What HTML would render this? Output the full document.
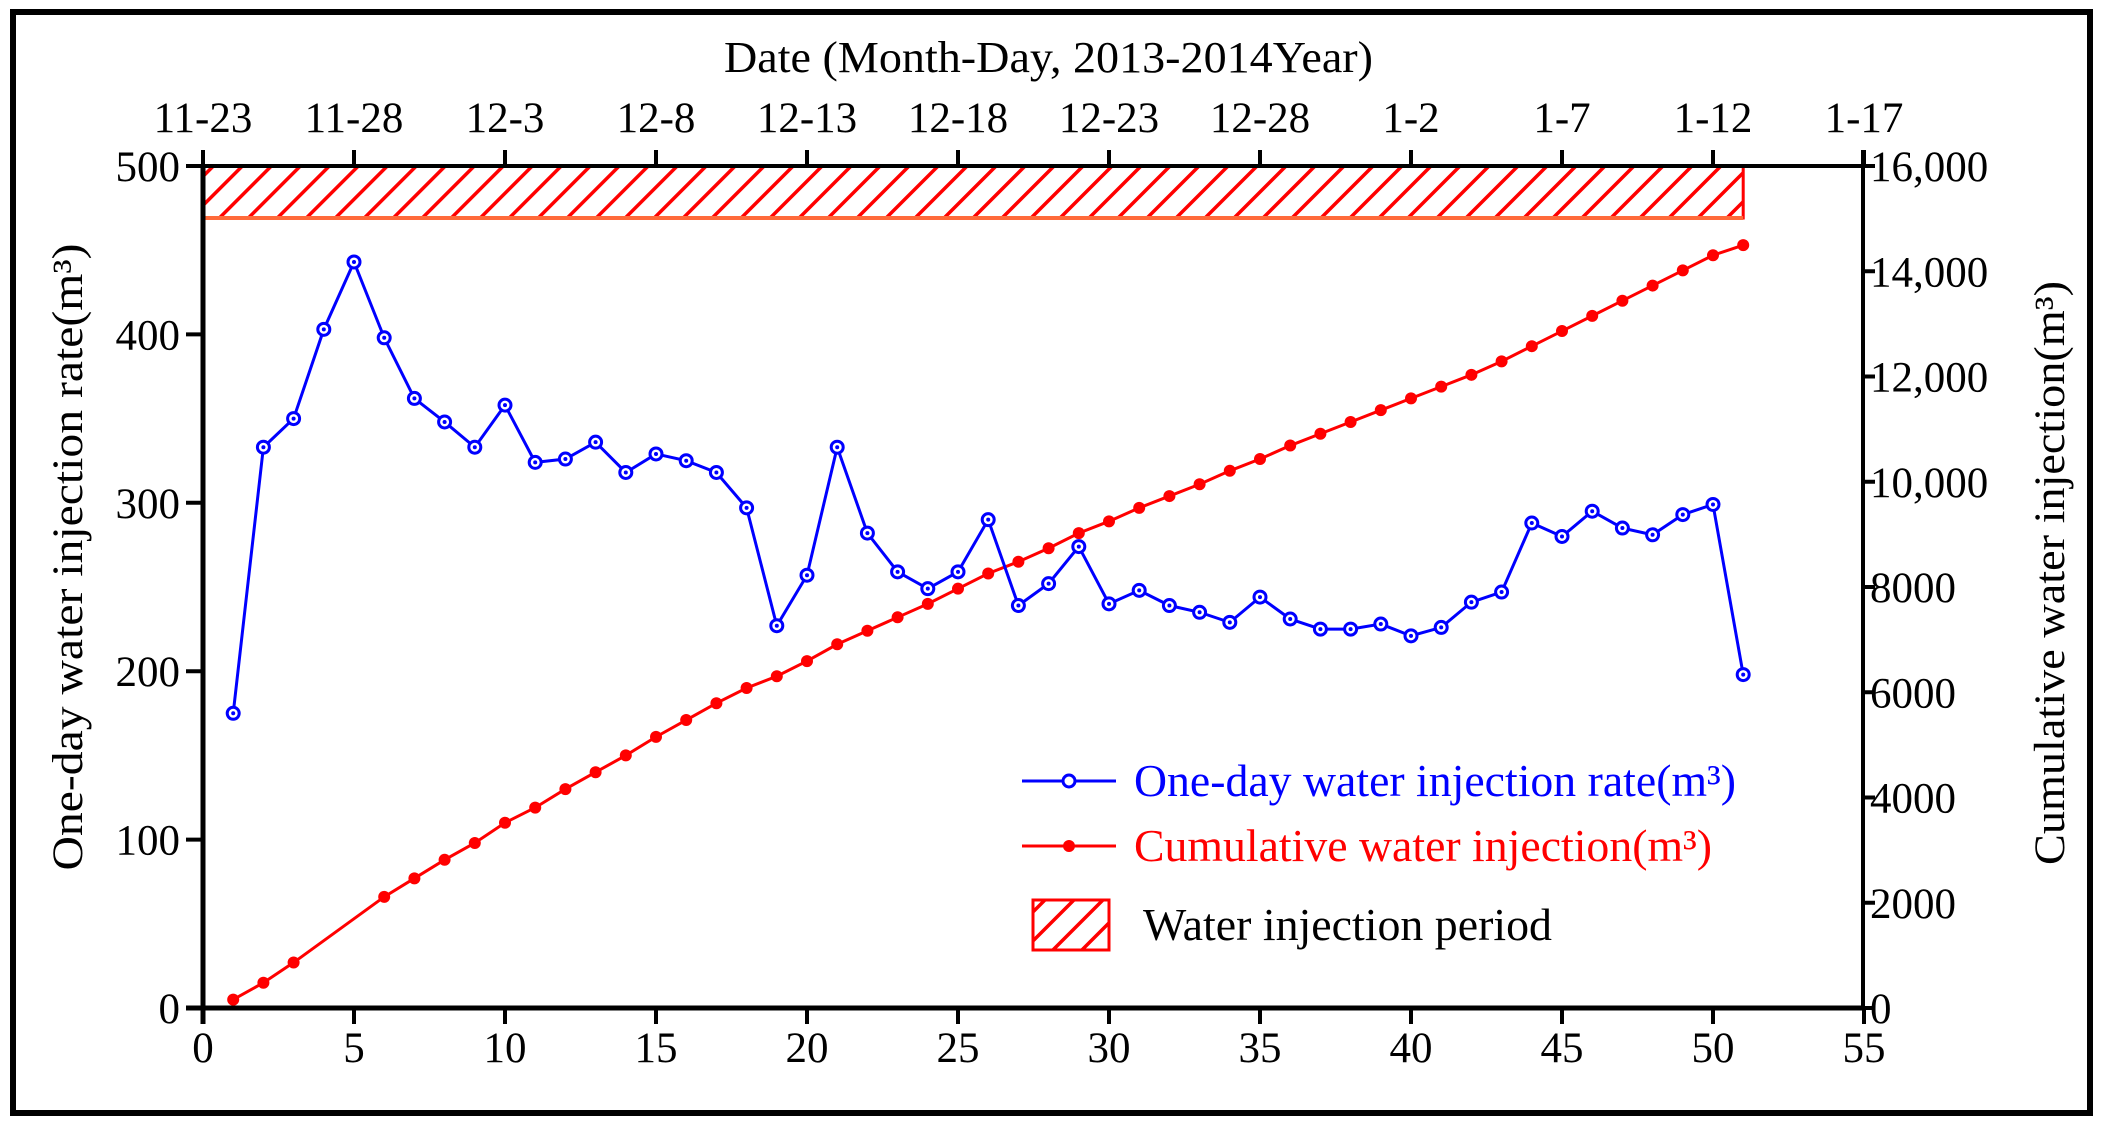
<!DOCTYPE html>
<html><head><meta charset="utf-8"><style>
html,body{margin:0;padding:0;background:#fff}
svg{display:block}
text{font-family:"Liberation Serif",serif}
</style></head><body>
<svg width="2111" height="1130" viewBox="0 0 2111 1130" xmlns="http://www.w3.org/2000/svg">
<defs>
<pattern id="h" patternUnits="userSpaceOnUse" width="20.5" height="20.5" patternTransform="rotate(45)">
<rect width="20.5" height="20.5" fill="#fff"/><line x1="0" y1="0" x2="0" y2="20.5" stroke="#f00" stroke-width="7"/>
</pattern>
</defs>
<rect x="13" y="12" width="2077" height="1101" fill="none" stroke="#000" stroke-width="6"/>
<text x="724" y="72" font-size="44" textLength="649" lengthAdjust="spacingAndGlyphs">Date (Month-Day, 2013-2014Year)</text>
<g id="plot"></g>
</svg>
<script>
const NS="http://www.w3.org/2000/svg";
const g=document.getElementById('plot');
function el(t,a,txt){const e=document.createElementNS(NS,t);for(const k in a)e.setAttribute(k,a[k]);if(txt!==undefined)e.textContent=txt;g.appendChild(e);return e;}
const X=v=>203+30.2*v, Y=v=>1008-1.684*v;
el('rect',{x:203,y:166,width:X(51)-203,height:52,fill:'url(#h)',stroke:'#f00','stroke-width':3});
el('line',{x1:203,y1:218,x2:X(51),y2:218,stroke:'#ff6a3a','stroke-width':4});
el('line',{x1:203,y1:166,x2:203,y2:1024,stroke:'#000','stroke-width':5});
el('line',{x1:186,y1:1008,x2:1863,y2:1008,stroke:'#000','stroke-width':5});
el('line',{x1:186,y1:166,x2:1863,y2:166,stroke:'#000','stroke-width':4});
el('line',{x1:1863,y1:150,x2:1863,y2:1008,stroke:'#000','stroke-width':4});
for(let v=0;v<=55;v+=5){const x=X(v);
 el('line',{x1:x,y1:1008,x2:x,y2:1024,stroke:'#000','stroke-width':4});
 el('text',{x:x,y:1062,'font-size':43,'text-anchor':'middle'},String(v));
 el('line',{x1:x,y1:166,x2:x,y2:150,stroke:'#000','stroke-width':4});
}
const dates=['11-23','11-28','12-3','12-8','12-13','12-18','12-23','12-28','1-2','1-7','1-12','1-17'];
dates.forEach((d,i)=>el('text',{x:X(i*5),y:132,'font-size':43,'text-anchor':'middle'},d));
for(let v=0;v<=500;v+=100){const y=Y(v);
 el('line',{x1:186,y1:y,x2:203,y2:y,stroke:'#000','stroke-width':4});
 el('text',{x:180,y:y+15,'font-size':43,'text-anchor':'end'},String(v));
}
const rl=['0','2000','4000','6000','8000','10,000','12,000','14,000','16,000'];
rl.forEach((t,i)=>{const y=1008-i*105.25;
 el('line',{x1:1863,y1:y,x2:1875,y2:y,stroke:'#000','stroke-width':4});
 el('text',{x:1870,y:y+15,'font-size':43},t);
});
el('text',{x:0,y:0,'font-size':43,'text-anchor':'middle',textLength:627,lengthAdjust:'spacingAndGlyphs',transform:'translate(82,557) rotate(-90)'},'One-day water injection rate(m³)');
el('text',{x:0,y:0,'font-size':43,'text-anchor':'middle',textLength:584,lengthAdjust:'spacingAndGlyphs',transform:'translate(2064,573) rotate(-90)'},'Cumulative water injection(m³)');
const blue=[175,333,350,403,443,398,362,348,333,358,324,326,336,318,329,325,318,297,227,257,333,282,259,249,259,290,239,252,274,240,248,239,235,229,244,231,225,225,228,221,226,241,247,288,280,295,285,281,293,299,198];
const red={1:5,2:15,3:27,6:66,7:77,8:88,9:98,10:110,11:119,12:130,13:140,14:150,15:161,16:171,17:181,18:190,19:197,20:206,21:216,22:224,23:232,24:240,25:249,26:258,27:265,28:273,29:282,30:289,31:297,32:304,33:311,34:319,35:326,36:334,37:341,38:348,39:355,40:362,41:369,42:376,43:384,44:393,45:402,46:411,47:420,48:429,49:438,50:447,51:453};
let rp=Object.keys(red).map(k=>X(+k)+','+Y(red[k])).join(' ');
el('polyline',{points:rp,fill:'none',stroke:'#f00','stroke-width':3});
for(const k in red){el('circle',{cx:X(+k),cy:Y(red[k]),r:6,fill:'#f00'});}
let bp=blue.map((v,i)=>X(i+1)+','+Y(v)).join(' ');
el('polyline',{points:bp,fill:'none',stroke:'#00f','stroke-width':3});
blue.forEach((v,i)=>{el('circle',{cx:X(i+1),cy:Y(v),r:6,fill:'#fff',stroke:'#00f','stroke-width':3});el('circle',{cx:X(i+1),cy:Y(v),r:2,fill:'#00f'});});
el('line',{x1:1022,y1:781,x2:1116,y2:781,stroke:'#00f','stroke-width':3});
el('circle',{cx:1069,cy:781,r:6,fill:'#fff',stroke:'#00f','stroke-width':3});
el('text',{x:1134,y:796,'font-size':46,fill:'#00f',textLength:602,lengthAdjust:'spacingAndGlyphs'},'One-day water injection rate(m³)');
el('line',{x1:1022,y1:846,x2:1116,y2:846,stroke:'#f00','stroke-width':3});
el('circle',{cx:1069,cy:846,r:6,fill:'#f00'});
el('text',{x:1134,y:861,'font-size':46,fill:'#f00',textLength:578,lengthAdjust:'spacingAndGlyphs'},'Cumulative water injection(m³)');
el('rect',{x:1033,y:900,width:76,height:50,fill:'url(#h)',stroke:'#f00','stroke-width':3});
el('text',{x:1143,y:940,'font-size':46,textLength:409,lengthAdjust:'spacingAndGlyphs'},'Water injection period');
</script>
</body></html>
